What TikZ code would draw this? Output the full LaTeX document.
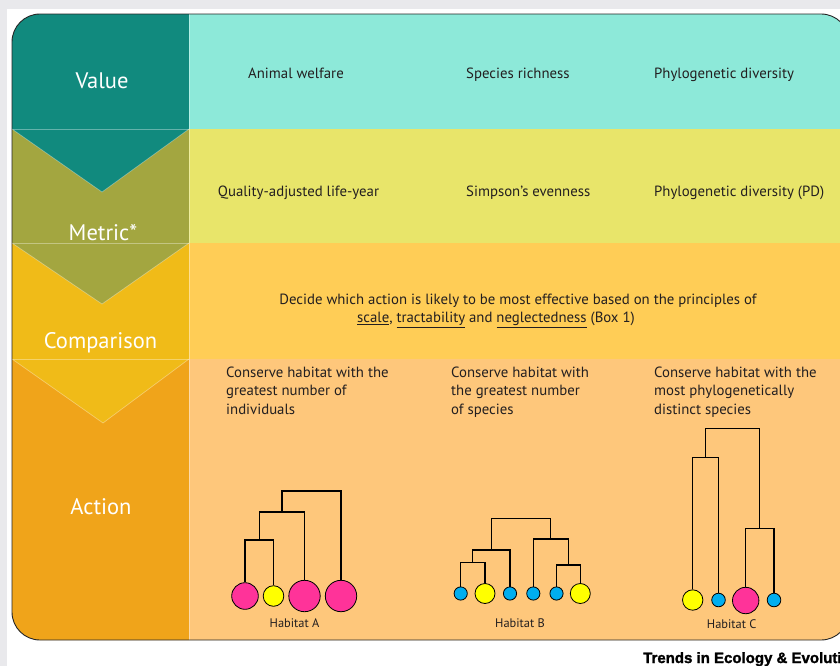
\documentclass[tikz,border=0pt]{standalone}
\usepackage{fontspec}
\setmainfont{PT Sans}
\newfontfamily\trendsfont[FakeBold=1.6]{Liberation Sans}
\definecolor{bggray}{HTML}{E9E9EC}
\definecolor{tealdark}{HTML}{118A7E}
\definecolor{teallight}{HTML}{8DE9D9}
\definecolor{olivedark}{HTML}{A3A640}
\definecolor{olivelight}{HTML}{E8E56A}
\definecolor{compdark}{HTML}{F0BB18}
\definecolor{complight}{HTML}{FFCD56}
\definecolor{actdark}{HTML}{F0A41A}
\definecolor{actlight}{HTML}{FEC77B}
\definecolor{txt}{HTML}{231F20}
\definecolor{pinkc}{HTML}{FF3399}
\definecolor{yellowc}{HTML}{FFFF00}
\definecolor{bluec}{HTML}{00AEEF}
\tikzset{
  rowlabel/.style={text=white, inner sep=0pt, font=\fontsize{22.5}{25}\selectfont},
  bodytext/.style={text=txt, inner sep=0pt, font=\fontsize{14.8}{18}\selectfont},
  actiontext/.style={text=txt, inner sep=0pt, align=left, anchor=north west, font=\fontsize{14.8}{18.2}\selectfont},
  habtext/.style={text=txt, inner sep=0pt, font=\fontsize{12.4}{13}\selectfont},
  leaf/.style={circle, draw=black, line width=0.8pt, inner sep=0pt},
  pinkleaf/.style={leaf, fill=pinkc},
  yellowleaf/.style={leaf, fill=yellowc},
  blueleaf/.style={leaf, fill=bluec},
  branch/.style={draw=black, line width=1.2pt, line join=miter},
  sep/.style={draw=white, draw opacity=0.35, line width=0.7pt}
}
\begin{document}
\begin{tikzpicture}[x=1pt,y=-1pt]
\useasboundingbox (0,0) rectangle (840,666);
\clip (0,0) rectangle (840,666);
\fill[bggray] (0,0) rectangle (840,666);
\fill[white] (6.5,9) rectangle (840,666);
\begin{scope}
\clip[rounded corners=28pt] (400,14) -- (12,14) -- (12,640) -- (849,640) -- (849,14) -- cycle;
% Value row
\fill[teallight] (189,14) rectangle (849,129);
\fill[tealdark] (12,14) rectangle (189,129);
% Metric row
\fill[olivelight] (189,129) rectangle (849,243);
\fill[olivedark] (12,129) rectangle (189,243);
\fill[tealdark] (12,129) -- (189,129) -- (102,192) -- cycle;
% Comparison row
\fill[complight] (189,243) rectangle (849,359);
\fill[compdark] (12,243) rectangle (189,359);
\fill[olivedark] (12,243) -- (189,243) -- (102,304) -- cycle;
% Action row
\fill[actlight] (189,359) rectangle (849,645);
\fill[actdark] (12,359) rectangle (189,645);
\fill[compdark] (12,359) -- (189,359) -- (103,423) -- cycle;
% light separators
\draw[sep] (12,129) -- (189,129) (12,243) -- (189,243) (12,359) -- (189,359);
\draw[sep] (12,129) -- (102,192) -- (189,129);
\draw[sep] (12,243) -- (102,304) -- (189,243);
\draw[sep] (12,359) -- (103,423) -- (189,359);
\draw[sep] (189,14) -- (189,645);
\end{scope}
\draw[rounded corners=28pt, line width=0.9pt, draw=black!85] (400,14) -- (12,14) -- (12,640) -- (849,640) -- (849,14) -- cycle;

% Row labels
\node[rowlabel, anchor=base] (lvalue) at (102,89) {Value};
\node[rowlabel, anchor=base] (lmetric) at (103,240.5) {Metric*};
\node[rowlabel, anchor=base] (lcomp) at (100.5,348) {Comparison};
\node[rowlabel, anchor=base] (laction) at (101,514) {Action};

% Value row texts
\node[bodytext, anchor=base] (v1) at (296,78.5) {Animal welfare};
\node[bodytext, anchor=base west] (v2) at (466,78.5) {Species richness};
\node[bodytext, anchor=base west] (v3) at (654,78.5) {Phylogenetic diversity};

% Metric row texts
\node[bodytext, anchor=base] (m1) at (298.5,196) {Quality-adjusted life-year};
\node[bodytext, anchor=base west] (m2) at (466,196) {Simpson’s evenness};
\node[bodytext, anchor=base west] (m3) at (654,196) {Phylogenetic diversity (PD)};

% Comparison text
\node[bodytext, anchor=base] (c1) at (518,304) {Decide which action is likely to be most effective based on the principles of};
\node[bodytext, anchor=base] (c2) at (496,322.5) {\underline{scale}, \underline{tractability} and \underline{neglectedness} (Box 1)};

% Action texts
\node[actiontext] (a1) at (226,367) {Conserve habitat with the\\greatest number of\\individuals};
\node[actiontext] (a2) at (451,367) {Conserve habitat with\\the greatest number\\of species};
\node[actiontext] (a3) at (654,367) {Conserve habitat with the\\most phylogenetically\\distinct species};

% Habitat A tree
\node[pinkleaf, minimum size=26.6pt] (A1) at (245,596) {};
\node[yellowleaf, minimum size=20.6pt] (A2) at (273.5,596) {};
\node[pinkleaf, minimum size=31.4pt] (A3) at (304.5,596) {};
\node[pinkleaf, minimum size=31.4pt] (A4) at (341,596) {};
\coordinate (ja1) at (259.25,540);
\coordinate (ja2) at (281.9,512);
\coordinate (ja3) at (311.4,491);
\draw[branch] (A1.north) |- (ja1) -| (A2.north);
\draw[branch] (ja1) |- (ja2) -| (A3.north);
\draw[branch] (ja2) |- (ja3) -| (A4.north);
\node[habtext, anchor=base] (hA) at (294.5,627.7) {Habitat A};

% Habitat B tree
\node[blueleaf, minimum size=13.2pt] (B1) at (460.7,593.5) {};
\node[yellowleaf, minimum size=20pt] (B2) at (485,593.5) {};
\node[blueleaf, minimum size=13.2pt] (B3) at (510,593.5) {};
\node[blueleaf, minimum size=13.2pt] (B4) at (533.3,593.5) {};
\node[blueleaf, minimum size=13.2pt] (B5) at (556.5,593.5) {};
\node[yellowleaf, minimum size=20pt] (B6) at (580.3,593.5) {};
\coordinate (jb1) at (472.85,562.3);
\coordinate (jb2) at (491.4,550);
\coordinate (jb3) at (568.4,565);
\coordinate (jb4) at (550.85,539);
\coordinate (jb5) at (521.1,518.3);
\draw[branch] (B1.north) |- (jb1) -| (B2.north);
\draw[branch] (jb1) |- (jb2) -| (B3.north);
\draw[branch] (B5.north) |- (jb3) -| (B6.north);
\draw[branch] (B4.north) |- (jb4) -| (jb3);
\draw[branch] (jb2) |- (jb5) -| (jb4);
\node[habtext, anchor=base] (hB) at (520,627.7) {Habitat B};

% Habitat C tree
\node[yellowleaf, minimum size=20.4pt] (C1) at (692.7,600) {};
\node[blueleaf, minimum size=13.6pt] (C2) at (718.5,600) {};
\node[pinkleaf, minimum size=26.4pt] (C3) at (745.7,600.5) {};
\node[blueleaf, minimum size=13.6pt] (C4) at (774,600) {};
\coordinate (jc1) at (705.6,457.3);
\coordinate (jc2) at (759.85,528.3);
\coordinate (jc3) at (732.7,428.3);
\draw[branch] (C1.north) |- (jc1) -| (C2.north);
\draw[branch] (C3.north) |- (jc2) -| (C4.north);
\draw[branch] (jc1) |- (jc3) -| (jc2);
\node[habtext, anchor=base] (hC) at (731.7,628.3) {Habitat C};

% Journal mark
\node[anchor=base west, inner sep=0pt, text=black, font=\trendsfont\bfseries\fontsize{15}{16}\selectfont] (journal) at (643,663) {Trends in Ecology \& Evolution};
\end{tikzpicture}
\end{document}
